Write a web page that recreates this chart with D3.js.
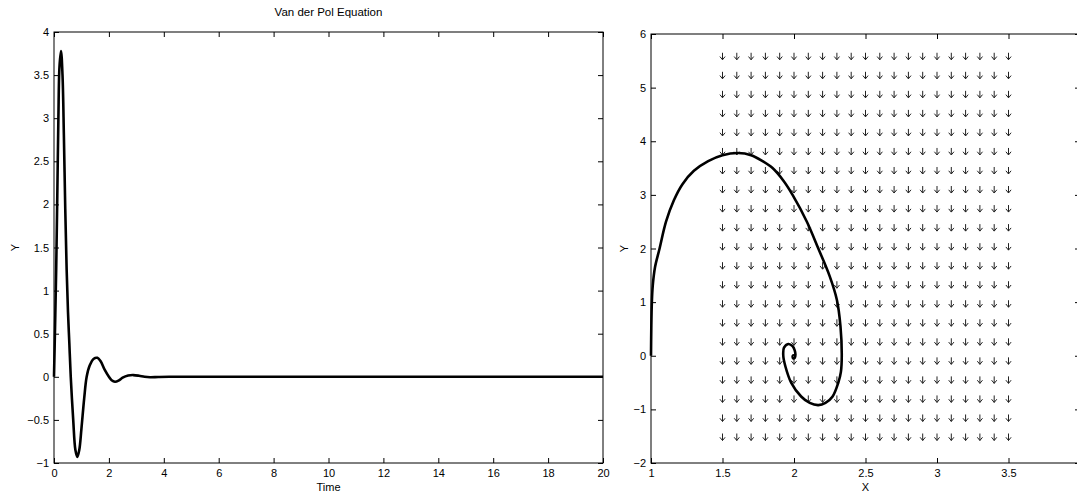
<!DOCTYPE html>
<html>
<head>
<meta charset="utf-8">
<script src="https://cdn.jsdelivr.net/npm/d3@7"></script>
<style>
html,body{margin:0;padding:0;background:#fff;}
svg{display:block;font-family:"Liberation Sans",Arial,Helvetica,sans-serif;}
</style>
</head>
<body>
<svg id="chart" width="1077" height="496"></svg>
<script>
// ---- data ----
const chartTitle = "Van der Pol Equation";
// Left plot: Y vs Time
const timeValues = [0, 0.04, 0.08, 0.12, 0.16, 0.2, 0.255, 0.31, 0.36, 0.41, 0.46, 0.51, 0.56, 0.61, 0.7, 0.78, 0.85, 0.92, 1.0, 1.1, 1.19, 1.3, 1.45, 1.58, 1.7, 1.85, 2.0, 2.1, 2.22, 2.35, 2.5, 2.7, 2.89, 3.1, 3.3, 3.5, 3.8, 4.2, 5, 8, 12, 16, 20];
const yValues    = [0, 0.6, 1.25, 2.1, 3.0, 3.6, 3.78, 3.5, 2.8, 1.95, 1.25, 0.75, 0.38, 0.0, -0.5, -0.85, -0.93, -0.85, -0.6, -0.25, 0.0, 0.13, 0.21, 0.22, 0.18, 0.08, 0.0, -0.04, -0.057, -0.045, -0.01, 0.015, 0.02, 0.012, 0.0, -0.005, -0.002, 0, 0, 0, 0, 0, 0];
const timeTicks = [0, 2, 4, 6, 8, 10, 12, 14, 16, 18, 20];
const leftYTicks = [-1, -0.5, 0, 0.5, 1, 1.5, 2, 2.5, 3, 3.5, 4];

// Right plot: phase plane, X vs Y
const phaseX = [1.0, 1.002, 1.006, 1.012, 1.028, 1.06, 1.105, 1.16, 1.22, 1.3, 1.4, 1.5, 1.61, 1.7, 1.78, 1.85, 1.93, 1.99, 2.09, 2.17, 2.25, 2.3, 2.325, 2.334, 2.328, 2.31, 2.27, 2.22, 2.17, 2.11, 2.05, 1.98, 1.94, 1.925, 1.93, 1.96, 1.99, 2.005, 2.01, 2.005, 1.995, 1.99, 1.995, 2.0];
const phaseY = [0.0, 0.5, 1.0, 1.3, 1.65, 2.0, 2.5, 2.9, 3.2, 3.45, 3.63, 3.74, 3.78, 3.74, 3.63, 3.5, 3.25, 3.0, 2.5, 2.0, 1.48, 1.04, 0.55, 0.0, -0.3, -0.5, -0.76, -0.88, -0.92, -0.88, -0.76, -0.5, -0.2, 0.0, 0.15, 0.22, 0.18, 0.1, 0.02, -0.04, -0.05, -0.02, 0.01, 0.0];
const phaseXTicks = [1, 1.5, 2, 2.5, 3, 3.5, 4];
const phaseYTicks = [-2, -1, 0, 1, 2, 3, 4, 5, 6];
// Direction field grid (all vectors point straight down)
const quiverX = [1.5, 1.6, 1.7, 1.8, 1.9, 2.0, 2.1, 2.2, 2.3, 2.4, 2.5, 2.6, 2.7, 2.8, 2.9, 3.0, 3.1, 3.2, 3.3, 3.4, 3.5];
const quiverY = [-1.45, -1.095, -0.74, -0.385, -0.03, 0.325, 0.68, 1.035, 1.39, 1.745, 2.1, 2.455, 2.81, 3.165, 3.52, 3.875, 4.23, 4.585, 4.94, 5.295, 5.65];
const quiverU = 0, quiverV = -1;

// ---- drawing ----
const svg = d3.select("#chart");
const fs = 11;

function drawAxes(g, x, y, xTicks, yTicks, xFmt, yFmt) {
  const [x0, x1] = x.range(); const [y0, y1] = y.range();
  g.append("rect").attr("x", x0).attr("y", y1).attr("width", x1 - x0).attr("height", y0 - y1)
    .attr("fill", "none").attr("stroke", "#000").attr("stroke-width", 1);
  const bottom = g.append("g").attr("transform", `translate(0,${y0})`)
    .call(d3.axisBottom(x).tickValues(xTicks).tickSize(-5).tickPadding(6).tickFormat(xFmt));
  const left = g.append("g").attr("transform", `translate(${x0},0)`)
    .call(d3.axisLeft(y).tickValues(yTicks).tickSize(-5).tickPadding(5).tickFormat(yFmt));
  const top = g.append("g").attr("transform", `translate(0,${y1})`)
    .call(d3.axisTop(x).tickValues(xTicks).tickSize(-5).tickFormat(""));
  const right = g.append("g").attr("transform", `translate(${x1},0)`)
    .call(d3.axisRight(y).tickValues(yTicks).tickSize(-5).tickFormat(""));
  [bottom, left, top, right].forEach(a => {
    a.select(".domain").remove();
    a.selectAll("text").attr("font-size", fs).attr("font-family", "Liberation Sans, Arial, sans-serif").attr("fill", "#000");
    a.selectAll("line").attr("stroke", "#000");
  });
}

// Left plot
const xL = d3.scaleLinear().domain([0, 20]).range([54, 603]);
const yL = d3.scaleLinear().domain([-1, 4]).range([463, 32]);
const gL = svg.append("g");
drawAxes(gL, xL, yL, timeTicks, leftYTicks, d3.format("d"), d => d3.format("")(d));
gL.append("path")
  .datum(timeValues.map((t, i) => [t, yValues[i]]))
  .attr("fill", "none").attr("stroke", "#000").attr("stroke-width", 2.6)
  .attr("stroke-linejoin", "round")
  .attr("d", d3.line().x(d => xL(d[0])).y(d => yL(d[1])).curve(d3.curveCatmullRom.alpha(0.5)));
gL.append("text").attr("x", (xL(0) + xL(20)) / 2).attr("y", 16).attr("text-anchor", "middle")
  .attr("font-size", 11.5).text(chartTitle);
gL.append("text").attr("x", (xL(0) + xL(20)) / 2).attr("y", 491).attr("text-anchor", "middle")
  .attr("font-size", fs).text("Time");
gL.append("text").attr("transform", `translate(19,${(yL(-1) + yL(4)) / 2}) rotate(-90)`)
  .attr("text-anchor", "middle").attr("font-size", fs).text("Y");

// Right plot
const xR = d3.scaleLinear().domain([1, 4]).range([651, 1080]);
const yR = d3.scaleLinear().domain([-2, 6]).range([463, 34]);
const gR = svg.append("g");
drawAxes(gR, xR, yR, phaseXTicks, phaseYTicks, d => d3.format("")(d), d3.format("d"));

// quiver arrows
const arrowLen = 7, headW = 2.6, headL = 3.2;
const qg = gR.append("g").attr("stroke", "#222").attr("stroke-width", 1).attr("fill", "none");
quiverY.forEach(qy => {
  quiverX.forEach(qx => {
    const px = xR(qx), py = yR(qy);
    const ex = px + quiverU * arrowLen, ey = py - quiverV * arrowLen;
    qg.append("path").attr("d",
      `M${px},${py}L${ex},${ey}M${ex - headW},${ey - headL}L${ex},${ey}L${ex + headW},${ey - headL}`);
  });
});

gR.append("path")
  .datum(phaseX.map((x, i) => [x, phaseY[i]]))
  .attr("fill", "none").attr("stroke", "#000").attr("stroke-width", 2.6)
  .attr("stroke-linejoin", "round")
  .attr("d", d3.line().x(d => xR(d[0])).y(d => yR(d[1])).curve(d3.curveCatmullRom.alpha(0.5)));
gR.append("text").attr("x", xR(2.5)).attr("y", 491).attr("text-anchor", "middle")
  .attr("font-size", fs).text("X");
gR.append("text").attr("transform", `translate(628,${(yR(-2) + yR(6)) / 2}) rotate(-90)`)
  .attr("text-anchor", "middle").attr("font-size", fs).text("Y");
</script>
</body>
</html>
